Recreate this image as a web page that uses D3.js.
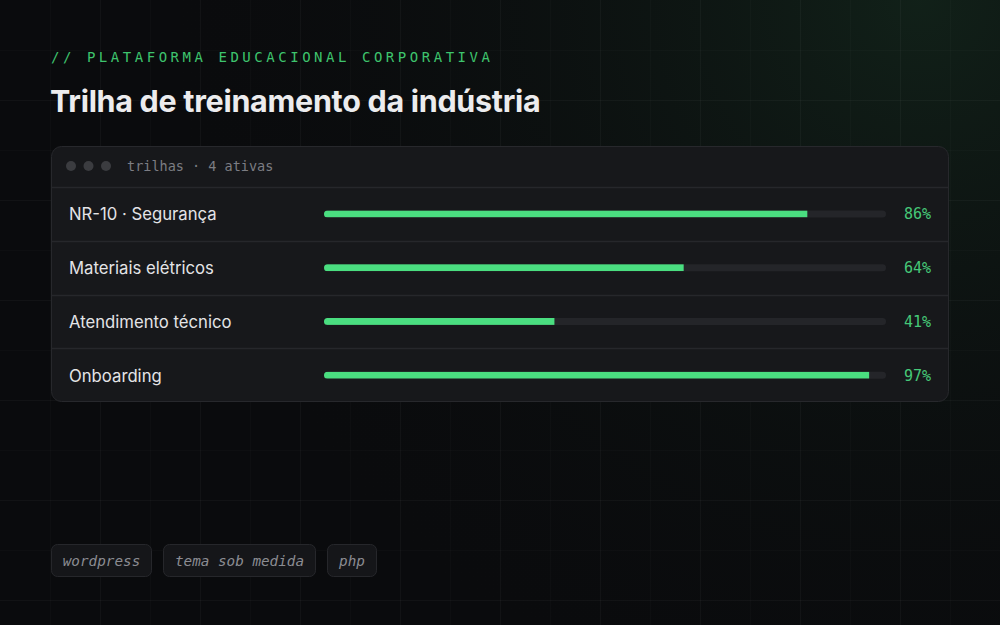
<!DOCTYPE html>
<html><head><meta charset="utf-8">
<script src="https://cdn.jsdelivr.net/npm/d3@7"></script>
<style>
html,body{margin:0;padding:0;background:#0b0c0e;}
svg{display:block;}
</style></head>
<body>
<svg id="c" width="1000" height="625"></svg>
<script>
const eyebrow = "// PLATAFORMA EDUCACIONAL CORPORATIVA";
const title = "Trilha de treinamento da indústria";
const panelHeader = "trilhas · 4 ativas";
const categories = ["NR-10 · Segurança", "Materiais elétricos", "Atendimento técnico", "Onboarding"];
const values = [86, 64, 41, 97];
const valueLabels = ["86%", "64%", "41%", "97%"];
const tags = ["wordpress", "tema sob medida", "php"];

const W = 1000, H = 625;
const SANS = "Inter, 'Noto Sans', sans-serif";
const MONO = "'DejaVu Sans Mono', 'Liberation Mono', monospace";
const GREEN = "#4ade80";

const svg = d3.select("#c");
const defs = svg.append("defs");

// background
const glow = defs.append("radialGradient").attr("id","glow")
  .attr("cx", 0.92).attr("cy", 0.0).attr("r", 0.75)
  .attr("gradientTransform","scale(1,1.6)");
glow.append("stop").attr("offset","0%").attr("stop-color","#12231a").attr("stop-opacity",0.9);
glow.append("stop").attr("offset","100%").attr("stop-color","#0b0c0e").attr("stop-opacity",0);
svg.append("rect").attr("width",W).attr("height",H).attr("fill","#0a0b0d");
svg.append("rect").attr("width",W).attr("height",H).attr("fill","url(#glow)");

// grid
const gridX = d3.range(50, W, 50), gridY = d3.range(50, H, 50);
const grid = svg.append("g");
grid.selectAll("line.v").data(gridX).join("line")
  .attr("x1",d=>d+0.5).attr("x2",d=>d+0.5).attr("y1",0).attr("y2",H)
  .attr("stroke","#ffffff").attr("stroke-opacity",d=>d%100===0?0.035:0.02);
grid.selectAll("line.h").data(gridY).join("line")
  .attr("y1",d=>d+0.5).attr("y2",d=>d+0.5).attr("x1",0).attr("x2",W)
  .attr("stroke","#ffffff").attr("stroke-opacity",d=>d%100===0?0.035:0.02);

// eyebrow + title
svg.append("text").attr("x",51).attr("y",62).text(eyebrow)
  .attr("font-family",MONO).attr("font-size",14).attr("letter-spacing",3.53)
  .attr("fill","#3ec46d");
svg.append("text").attr("x",50).attr("y",112).text(title)
  .attr("font-family",SANS).attr("font-size",30.5).attr("font-weight",700)
  .attr("letter-spacing",-0.3).attr("fill","#ececee");

// panel
const px0 = 51, px1 = 949, py0 = 146, py1 = 402, headH = 41;
const panel = svg.append("g");
panel.append("rect").attr("x",px0+0.5).attr("y",py0+0.5).attr("width",px1-px0-1).attr("height",py1-py0-1)
  .attr("rx",10).attr("fill","#17181b").attr("stroke","#27282c");
panel.selectAll("circle.dot").data([0,1,2]).join("circle")
  .attr("cx",(d)=>71+d*17.5).attr("cy",166).attr("r",5).attr("fill","#3b3c40");
panel.append("text").attr("x",127).attr("y",171).text(panelHeader)
  .attr("font-family",MONO).attr("font-size",13.5).attr("fill","#7c7d83");

const y = d3.scaleBand().domain(categories).range([py0+headH, py1]);
const x = d3.scaleLinear().domain([0,100]).range([324, 886]);
const barH = 7;

// separators
panel.selectAll("line.sep").data(categories).join("line")
  .attr("x1",px0+1).attr("x2",px1-1)
  .attr("y1",d=>Math.round(y(d))+0.5).attr("y2",d=>Math.round(y(d))+0.5)
  .attr("stroke","#26272b").attr("stroke-width",1.5);

const rows = panel.selectAll("g.row").data(categories).join("g")
  .attr("transform",d=>`translate(0,${y(d)+y.bandwidth()/2})`);

rows.append("text").attr("x",69).attr("y",6.5).text(d=>d)
  .attr("font-family",SANS).attr("font-size",16.7).attr("fill","#e4e4e7");

rows.each(function(d,i){
  const cid = "clip"+i;
  defs.append("clipPath").attr("id",cid).append("rect")
    .attr("x",x(0)).attr("y",0).attr("width",x(100)-x(0)).attr("height",barH).attr("rx",barH/2)
    .attr("transform",`translate(0,${y(d)+y.bandwidth()/2-barH/2})`);
});
rows.append("rect").attr("x",x(0)).attr("y",-barH/2).attr("width",x(100)-x(0)).attr("height",barH)
  .attr("rx",barH/2).attr("fill","#242529");
panel.selectAll("rect.fill").data(values).join("rect")
  .attr("clip-path",(d,i)=>`url(#clip${i})`)
  .attr("x",x(0)).attr("y",(d,i)=>y(categories[i])+y.bandwidth()/2-barH/2)
  .attr("width",d=>x(d)-x(0)).attr("height",barH).attr("fill",GREEN);

rows.append("text").attr("x",931).attr("y",5.5).attr("text-anchor","end")
  .text((d,i)=>valueLabels[i])
  .attr("font-family",MONO).attr("font-size",15).attr("fill","#46c878");

// tags
const tg = svg.append("g");
let tx = 51;
tags.forEach(t=>{
  const g = tg.append("g");
  const txt = g.append("text").attr("y",566).text(t)
    .attr("font-family",MONO).attr("font-style","italic").attr("font-size",14.3).attr("fill","#8b8c92");
  const w = txt.node().getComputedTextLength();
  const bw = Math.round(w + 24);
  g.insert("rect","text").attr("x",tx+0.5).attr("y",544.5).attr("width",bw-1).attr("height",32)
    .attr("rx",6).attr("fill","#151619").attr("stroke","#26272b");
  txt.attr("x",tx+bw/2).attr("text-anchor","middle");
  tx += bw + 11;
});
</script>
</body></html>
